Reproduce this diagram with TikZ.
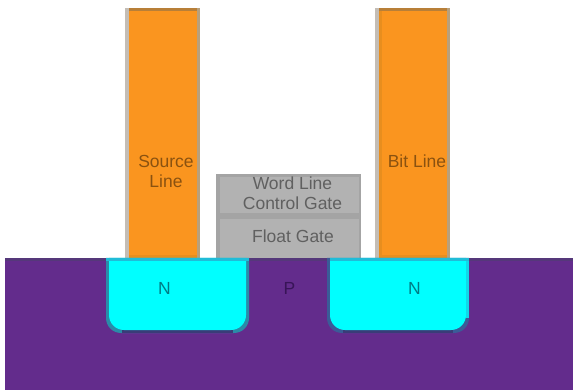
\documentclass[tikz,border=0pt]{standalone}
\usepackage{fontspec}
\setmainfont{Liberation Sans}
\definecolor{orangefill}{HTML}{FA951F}
\definecolor{orangedark}{HTML}{E88E1E}
\definecolor{orangetop}{HTML}{B87F38}
\definecolor{tan}{HTML}{B8A07C}
\definecolor{lgray}{HTML}{C4BDB5}
\definecolor{grayfill}{HTML}{B2B2B2}
\definecolor{graydark}{HTML}{A4A4A4}
\definecolor{purplefill}{HTML}{632C8C}
\definecolor{purpletop}{HTML}{55387A}
\definecolor{wellcyan}{HTML}{00FFFF}
\definecolor{tealedge}{HTML}{20BCD8}
\definecolor{teallow}{HTML}{3A3C78}
\definecolor{tealside}{HTML}{2A8CA8}
\definecolor{tealside2}{HTML}{3A5C98}
\definecolor{cyanedge}{HTML}{10D8E8}
\definecolor{textorange}{HTML}{8A5210}
\definecolor{textgray}{HTML}{606060}
\definecolor{textteal}{HTML}{007C84}
\definecolor{textpurple}{HTML}{381458}
\tikzset{
  x=1pt,y=-1pt,
  lbl/.style={inner sep=0pt,font=\fontsize{17.5}{20.5}\selectfont,align=center},
  orangelbl/.style={lbl,text=textorange},
  graylbl/.style={lbl,text=textgray},
  nlbl/.style={lbl,text=textteal},
  plbl/.style={lbl,text=textpurple},
  wellround/.style={rounded corners=15pt},
}
\begin{document}
\begin{tikzpicture}
\useasboundingbox (0,0) rectangle (573,390);
\fill[white] (0,0) rectangle (573,390);
% substrate
\fill[purplefill] (5,258) rectangle (573,390);
\fill[purpletop] (5,258) rectangle (573,261);
% bars
\fill[orangefill] (125,8) rectangle (200,258);
\fill[lgray] (125,8) rectangle (129,258);
\fill[tan] (197,8) rectangle (200,258);
\fill[orangetop] (129,8) rectangle (197,11);
\fill[orangedark] (129,255) rectangle (197,258);
\fill[orangefill] (375,8) rectangle (450,258);
\fill[lgray] (375,8) rectangle (379,258);
\fill[orangedark] (379,8) rectangle (382,258);
\fill[tan] (447,8) rectangle (450,258);
\fill[orangetop] (379,8) rectangle (447,11);
\fill[orangedark] (379,255) rectangle (447,258);
% gate stack
\fill[grayfill] (216,174) rectangle (361,258);
\fill[graydark] (216,174) rectangle (361,177);
\fill[graydark] (216,174) rectangle (220,258);
\fill[graydark] (359,174) rectangle (361,258);
\fill[graydark] (216,213) rectangle (361,219);
% wells
\fill[tealside] (106,258) {[wellround] -- (106,333) -- (249,333)} -- (249,258) -- cycle;
\fill[teallow] (122,329) rectangle (233,333);
\fill[wellcyan] (109,258) {[wellround] -- (109,330) -- (246,330)} -- (246,258) -- cycle;
\fill[tealedge] (106,258) rectangle (249,261);
\fill[tealside2] (327,258) {[wellround] -- (327,333) -- (469,333)} -- (469,258) -- cycle;
\fill[teallow] (343,329) rectangle (453,333);
\fill[wellcyan] (330,258) {[wellround] -- (330,330) -- (466,330)} -- (466,258) -- cycle;
\fill[cyanedge] (466,258) rectangle (469,318);
\fill[tealedge] (330,258) rectangle (469,261);
% labels
\node[orangelbl] (source) at (166,171.5) {Source\\Line};
\node[orangelbl] (bit) at (417,161.5) {Bit Line};
\node[graylbl] (word) at (292.5,193) {Word Line\\Control Gate};
\node[graylbl] (float) at (293,236) {Float Gate};
\node[nlbl] (n1) at (164.5,288) {N};
\node[plbl] (p) at (289.5,288) {P};
\node[nlbl] (n2) at (414.5,288) {N};
\end{tikzpicture}
\end{document}
